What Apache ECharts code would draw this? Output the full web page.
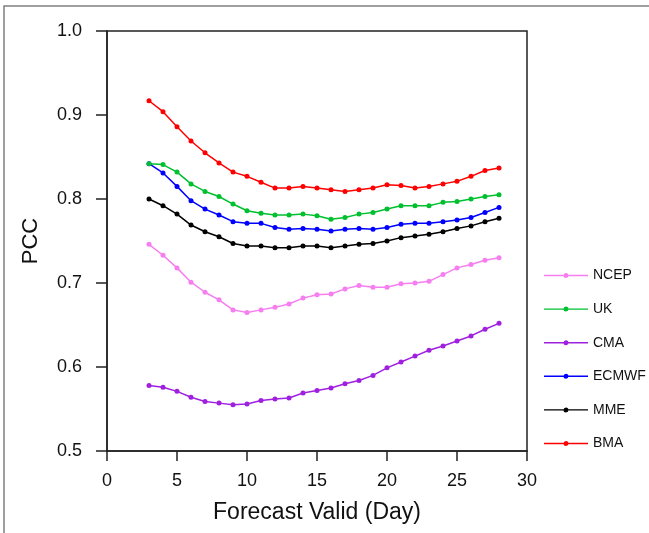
<!DOCTYPE html>
<html>
<head>
<meta charset="utf-8">
<script src="https://cdn.jsdelivr.net/npm/echarts@6/dist/echarts.min.js"></script>
<style>
html,body{margin:0;padding:0;background:#fff;}
#c{width:649px;height:533px;}
</style>
</head>
<body>
<div id="c"></div>
<script>
var days = [3,4,5,6,7,8,9,10,11,12,13,14,15,16,17,18,19,20,21,22,23,24,25,26,27,28];
var NCEP  = [0.746,0.733,0.718,0.701,0.689,0.680,0.668,0.665,0.668,0.671,0.675,0.682,0.686,0.687,0.693,0.697,0.695,0.695,0.699,0.700,0.702,0.710,0.718,0.722,0.727,0.730];
var UK    = [0.842,0.841,0.832,0.818,0.809,0.803,0.794,0.786,0.783,0.781,0.781,0.782,0.780,0.776,0.778,0.782,0.784,0.788,0.792,0.792,0.792,0.796,0.797,0.800,0.803,0.805];
var CMA   = [0.578,0.576,0.571,0.564,0.559,0.557,0.555,0.556,0.560,0.562,0.563,0.569,0.572,0.575,0.580,0.584,0.590,0.599,0.606,0.613,0.620,0.625,0.631,0.637,0.645,0.652];
var ECMWF = [0.842,0.831,0.815,0.798,0.788,0.781,0.773,0.771,0.771,0.766,0.764,0.765,0.764,0.762,0.764,0.765,0.764,0.766,0.770,0.771,0.771,0.773,0.775,0.778,0.784,0.790];
var MME   = [0.800,0.792,0.782,0.769,0.761,0.755,0.747,0.744,0.744,0.742,0.742,0.744,0.744,0.742,0.744,0.746,0.747,0.750,0.754,0.756,0.758,0.761,0.765,0.768,0.773,0.777];
var BMA   = [0.917,0.904,0.886,0.869,0.855,0.843,0.832,0.827,0.820,0.813,0.813,0.815,0.813,0.811,0.809,0.811,0.813,0.817,0.816,0.813,0.815,0.818,0.821,0.827,0.834,0.837];

var seriesNames = ['NCEP','UK','CMA','ECMWF','MME','BMA'];
var seriesData = [NCEP, UK, CMA, ECMWF, MME, BMA];
var seriesColors = ['#f77ef0','#00c030','#a020e0','#0000ff','#000000','#ff0000'];

var FONT = '"Liberation Sans", Arial, Helvetica, sans-serif';
var legendIcon = 'path://M0,1.8 L44,1.8 L44,3.2 L0,3.2 Z M22,0 A2.5,2.5 0 1,1 21.99,0 Z';

function pairs(arr){ return days.map(function(d,i){ return [d, arr[i]]; }); }

var series = seriesNames.map(function(n, i){
  return {
    name: n,
    type: 'line',
    data: pairs(seriesData[i]),
    symbol: 'circle',
    symbolSize: 5,
    lineStyle: {color: seriesColors[i], width: 1.5},
    itemStyle: {color: seriesColors[i]},
    animation: false,
    z: 10 - i
  };
});

var chart = echarts.init(document.getElementById('c'), null, {renderer: 'canvas'});
chart.setOption({
  backgroundColor: '#fff',
  animation: false,
  textStyle: {fontFamily: FONT},
  graphic: [{
    type: 'rect',
    shape: {x: 4, y: 6, width: 800, height: 700},
    style: {fill: 'none', stroke: '#808080', lineWidth: 1.5},
    silent: true
  }],
  grid: {
    left: 107, top: 31, right: 122, bottom: 82,
    show: true, borderColor: '#222', borderWidth: 1.5, backgroundColor: 'transparent'
  },
  legend: {
    orient: 'vertical',
    left: 539, top: 263.5,
    itemWidth: 44, itemHeight: 5, itemGap: 19.6,
    icon: legendIcon,
    data: seriesNames,
    textStyle: {fontFamily: FONT, fontSize: 14, color: '#111'},
    selectedMode: false
  },
  xAxis: {
    type: 'value', min: 0, max: 30, interval: 5,
    name: 'Forecast Valid (Day)', nameLocation: 'middle', nameGap: 50,
    nameTextStyle: {fontFamily: FONT, fontSize: 23, color: '#111'},
    axisLine: {show: true, lineStyle: {color: '#222', width: 1.5}},
    axisTick: {show: true, inside: false, length: 10, lineStyle: {color: '#222', width: 1.5}},
    axisLabel: {margin: 21, fontFamily: FONT, fontSize: 18, color: '#111'},
    splitLine: {show: false}
  },
  yAxis: {
    type: 'value', min: 0.5, max: 1.0, interval: 0.1,
    name: 'PCC', nameLocation: 'middle', nameGap: 65, nameRotate: 90,
    nameTextStyle: {fontFamily: FONT, fontSize: 22, color: '#111'},
    axisLine: {show: true, lineStyle: {color: '#222', width: 1.5}},
    axisTick: {show: true, inside: false, length: 11, lineStyle: {color: '#222', width: 1.5}},
    axisLabel: {margin: 25, fontFamily: FONT, fontSize: 18, color: '#111',
      formatter: function(v){ return v.toFixed(1); }},
    splitLine: {show: false}
  },
  series: series
});
</script>
</body>
</html>
